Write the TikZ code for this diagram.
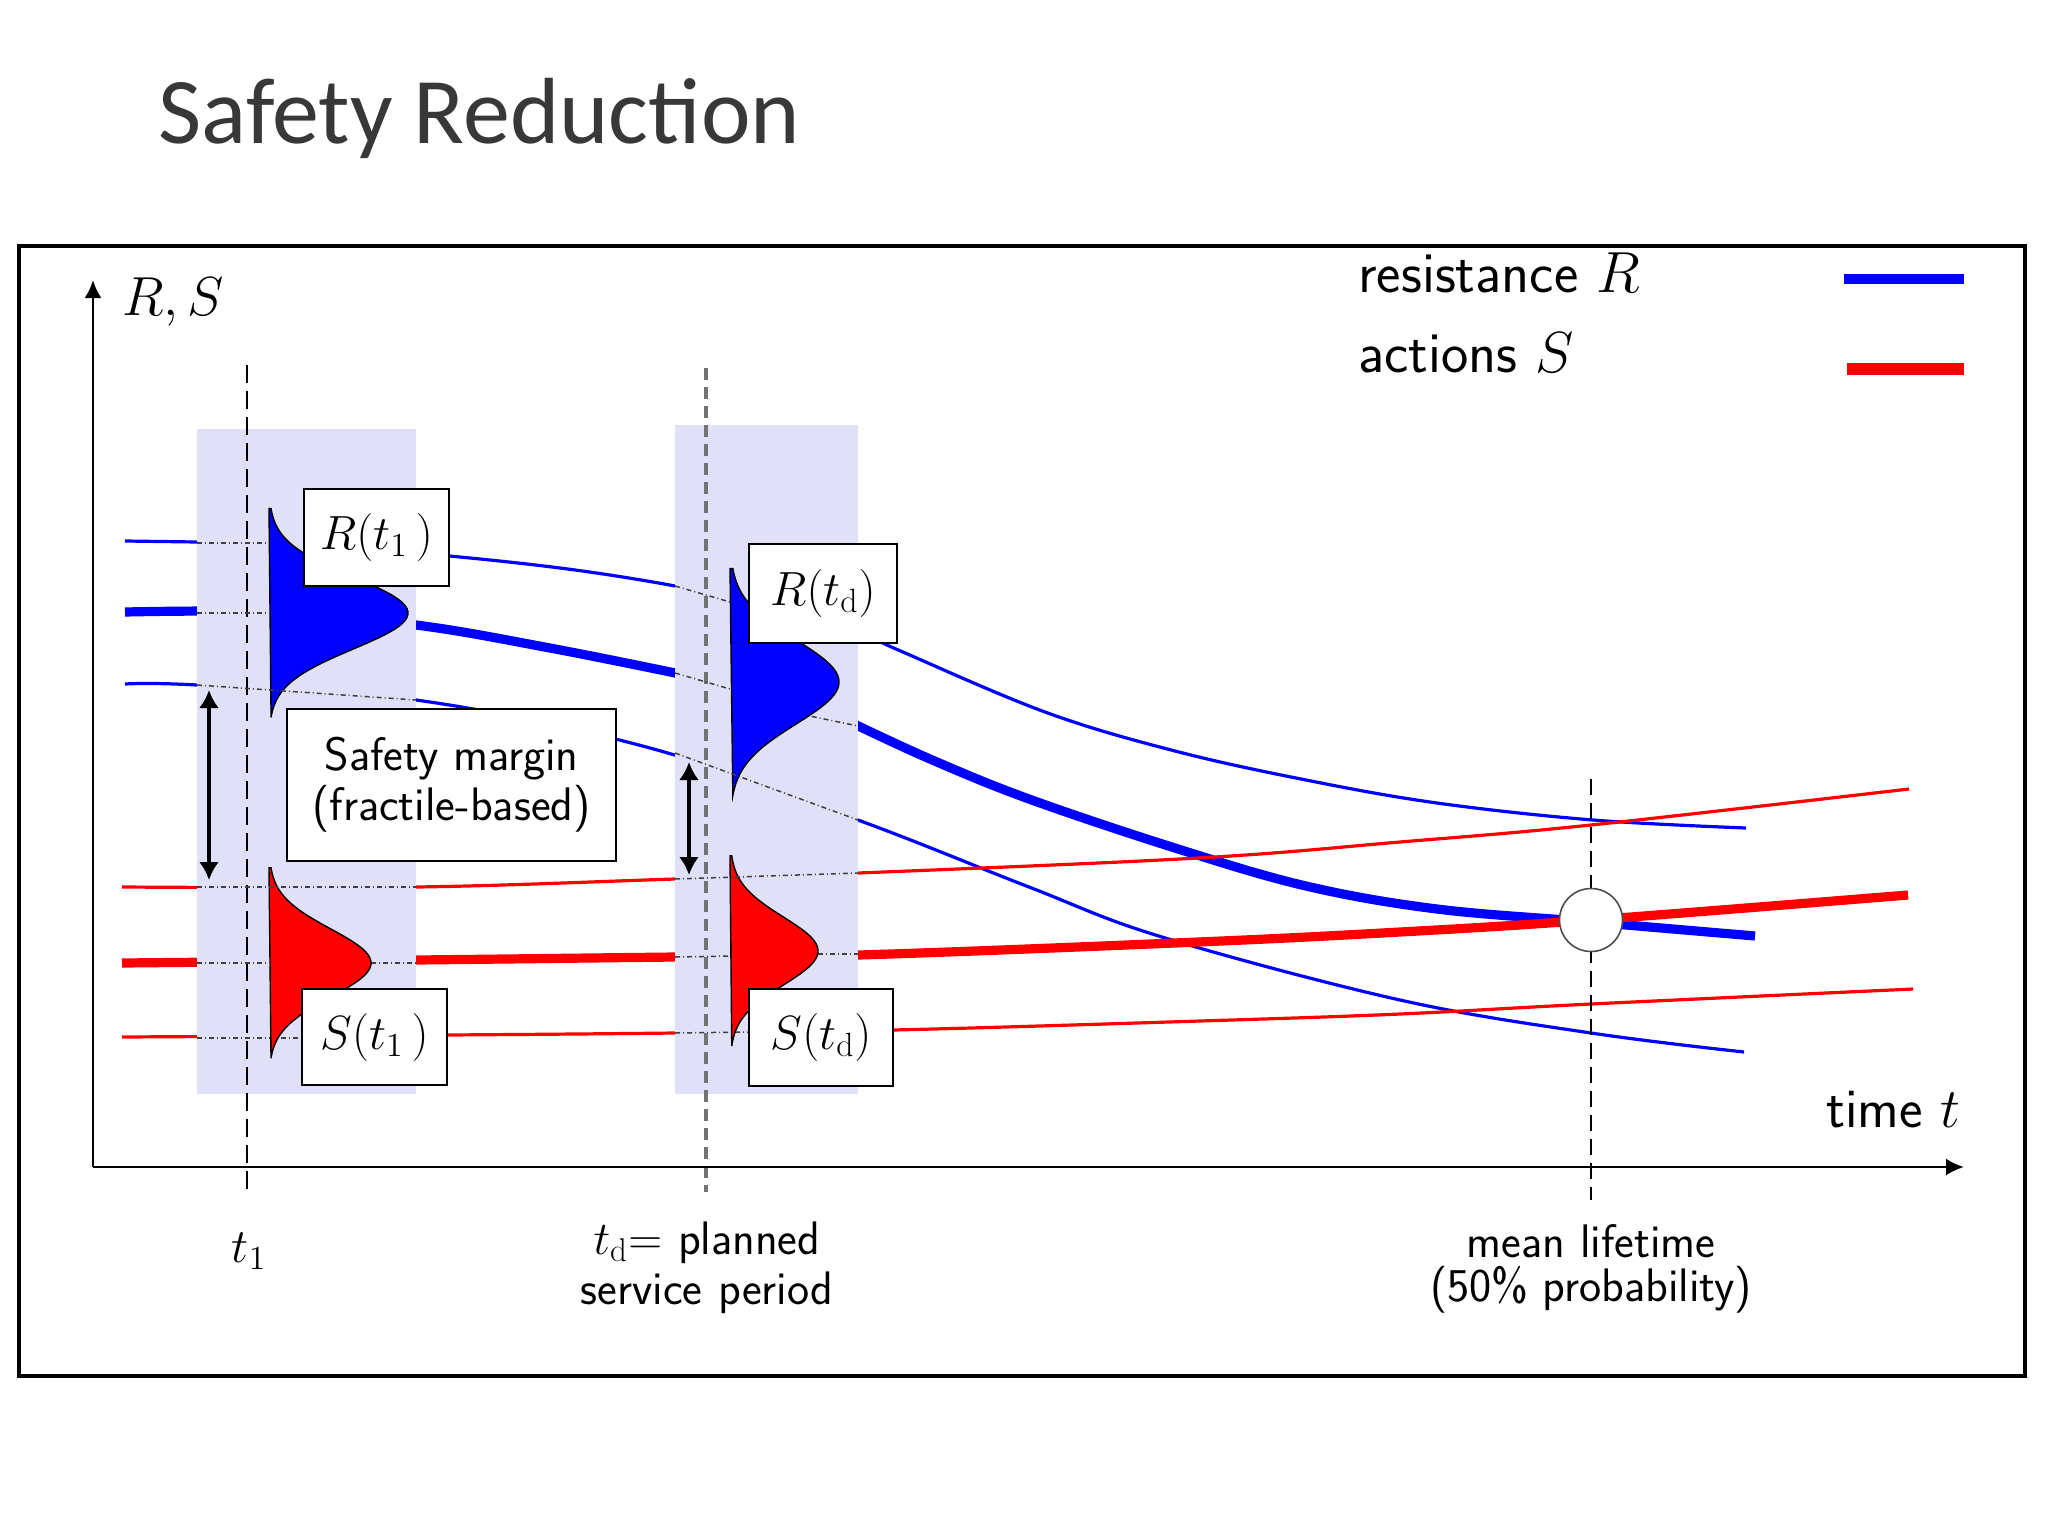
\RequirePackage{fix-cm}
\documentclass[tikz,border=0pt]{standalone}
\usepackage{fontspec}
\newfontfamily\titlefont{Carlito}
\usetikzlibrary{arrows.meta}
\definecolor{lav}{RGB}{224,224,248}
\definecolor{titlegray}{RGB}{56,56,56}
\newcommand\distshape[6]{%
  \filldraw[fill=#1,draw=black,line width=0.7pt] ({#2},{#3-#5*#6}) -- plot[domain=-#6:#6,samples=80,smooth] ({#2+#4*exp(-0.5*(\x)^2)},{#3+#5*\x}) -- cycle;}
\begin{document}
\begin{tikzpicture}[x=0.5pt,y=-0.5pt,
  thincurve/.style={line width=1.6pt},
  thickcurve/.style={line width=4.6pt},
  dotline/.style={black!75, line width=0.75pt, dash pattern=on 2.5pt off 1.5pt on 0.5pt off 1.5pt},
  lbox/.style={draw, fill=white, line width=1.2pt, inner sep=0pt, font=\fontsize{24}{26}\selectfont},
  dbl/.style={{Latex[length=9pt,width=10pt]}-{Latex[length=9pt,width=10pt]}, line width=2.4pt},
  axis/.style={line width=1.4pt, -{Latex[length=9pt,width=8.5pt]}},
  small/.style={inner sep=0pt, font=\sffamily\fontsize{23.5}{26}\selectfont},
  big/.style={inner sep=0pt, font=\sffamily\fontsize{29}{32}\selectfont}]
\useasboundingbox (0,0) rectangle (2048,1536);
\fill[white] (0,0) rectangle (2048,1536);
% frame
\draw[line width=1.6pt] (19,246) rectangle (2025,1376);
% title
\node[anchor=base west, inner sep=0pt, font=\titlefont\fontsize{47}{50}\selectfont, text=titlegray] (title) at (158,143) {Safety Reduction};
% curves
\draw[blue,thincurve] plot[smooth,tension=0.6] coordinates {(125,541) (197,542) (269,543) (416,553) (560,568) (675,586) (730,600) (858,632) (896,649) (1045,712) (1175,751) (1306,780) (1437,803) (1593,820) (1746,828)};
\draw[blue,thickcurve] plot[smooth,tension=0.6] coordinates {(125,612) (269,612) (416,625) (550,648) (680,674)};
\draw[blue,thickcurve] plot[smooth,tension=0.6] coordinates {(850,722) (930,759) (1029,799) (1175,848) (1306,886) (1437,909) (1591,922) (1755,936)};
\draw[blue,thincurve] plot[smooth,tension=0.6] coordinates {(125,684) (197,685) (416,700) (650,748) (858,820) (1029,887) (1162,937) (1400,1000) (1591,1033) (1744,1052)};
\draw[red,thincurve] plot[smooth,tension=0.6] coordinates {(122,887) (416,887) (675,879) (858,873) (1198,858) (1400,842) (1591,825) (1909,789)};
\draw[red,thickcurve] plot[smooth,tension=0.6] coordinates {(122,963) (416,960) (675,957) (858,955) (1198,942) (1400,932) (1591,920) (1908,895)};
\draw[red,thincurve] plot[smooth,tension=0.6] coordinates {(122,1037) (447,1035) (675,1033) (893,1030) (1200,1021) (1400,1014) (1591,1004) (1913,989)};
% shaded bands
\fill[lav] (197,429) rectangle (416,1094);
\fill[lav] (675,425) rectangle (858,1094);
% vertical dashed lines
\draw[black, line width=1.2pt, dash pattern=on 9pt off 4pt] (247,365) -- (247,1192);
\draw[black!55, line width=1.8pt, dash pattern=on 6pt off 3.5pt] (706,368) -- (706,1192);
% dotted continuations under distributions
\draw[dotline] (197,543) -- (269,543);
\draw[dotline] (197,613) -- (269,613);
\draw[dotline] (197,963) -- (269,963);
\draw[dotline] (371,963) -- (416,963);
\draw[dotline] (197,1038) -- (302,1038);
\draw[dotline] (675,586) -- (730,602);
\draw[dotline] (675,673) -- (730,689);
\draw[dotline] (800,714) -- (858,726);
\draw[dotline] (675,957) -- (730,956);
\draw[dotline] (818,954) -- (858,954);
\draw[dotline] (675,1033) -- (749,1032);
% distributions
\distshape{blue}{269}{613}{139}{36}{2.9}
\distshape{red}{269}{963}{102}{34}{2.8}
\distshape{blue}{730}{682}{109}{42}{2.7}
\distshape{red}{730}{951}{88}{34}{2.8}
% dotted lines over distributions
\draw[dotline] (197,685) -- (416,700);
\draw[dotline] (197,887) -- (416,887);
\draw[dotline] (675,753) -- (858,820);
\draw[dotline] (675,879) -- (858,873);
% label boxes
\node[lbox, minimum width=72.5pt, minimum height=48.5pt] (Rt1) at (376.5,537.5) {$R(t_1\,)$};
\node[lbox, minimum width=72.5pt, minimum height=48pt] (St1) at (374.5,1037) {$S(t_1\,)$};
\node[lbox, minimum width=74pt, minimum height=49.5pt] (Rtd) at (823,593.5) {$R(t_{\mathrm{d}})$};
\node[lbox, minimum width=72pt, minimum height=48.5pt] (Std) at (821,1037.5) {$S(t_{\mathrm{d}})$};
\node[lbox, minimum width=164.5pt, minimum height=76pt, align=center, font=\sffamily\fontsize{23.5}{25}\selectfont] (sm) at (451.5,785) {Safety margin\\(fractile-based)};
% safety margin arrows
\coordinate (a1t) at (209,690);
\coordinate (a1b) at (209,880);
\coordinate (a2t) at (689,762);
\coordinate (a2b) at (689,875);
\draw[dbl] (a1t) -- (a1b);
\draw[dbl] (a2t) -- (a2b);
% mean lifetime
\coordinate (mlt) at (1591,779);
\coordinate (mlb) at (1591,1200);
\draw[black, line width=1.1pt, dash pattern=on 8pt off 4pt] (mlt) -- (mlb);
\node[circle, draw=black!70, fill=white, minimum size=31.5pt, line width=0.8pt, inner sep=0pt] (ml) at (1591,920) {};
% axes
\coordinate (O) at (93,1167);
\coordinate (ytip) at (93,280);
\coordinate (xtip) at (1964,1167);
\draw[axis] (O) -- (ytip);
\draw[axis] (O) -- (xtip);
\node[anchor=base west, inner sep=0pt, font=\fontsize{27.5}{30}\selectfont] (RS) at (122,315) {$R,S$};
\node[inner sep=0pt, font=\sffamily\fontsize{28}{30}\selectfont, anchor=base west] (time) at (1826,1127) {time $t$};
% legend
\node[big, anchor=base west] (leg1) at (1358,292) {resistance $R$};
\node[big, anchor=base west] (leg2) at (1358,372) {actions $S$};
\coordinate (lb1) at (1844,279);
\coordinate (lb2) at (1964,279);
\coordinate (lr1) at (1847,369);
\coordinate (lr2) at (1964,369);
\draw[blue, line width=5pt] (lb1) -- (lb2);
\draw[red, line width=6pt] (lr1) -- (lr2);
% bottom labels
\node[anchor=base, inner sep=0pt, font=\fontsize{24}{26}\selectfont] (t1lab) at (249,1262) {$t_1$};
\node[small, anchor=base, text width=140pt, align=center, font=\sffamily\fontsize{23.5}{25}\selectfont] (tdlab) at (707,1254) {$t_{\mathrm{d}}$= planned\\service period};
\node[small, anchor=base] (mllab) at (1591,1257) {mean lifetime};
\node[small, anchor=base] (mllab2) at (1591,1301) {(50\% probability)};
\end{tikzpicture}
\end{document}
